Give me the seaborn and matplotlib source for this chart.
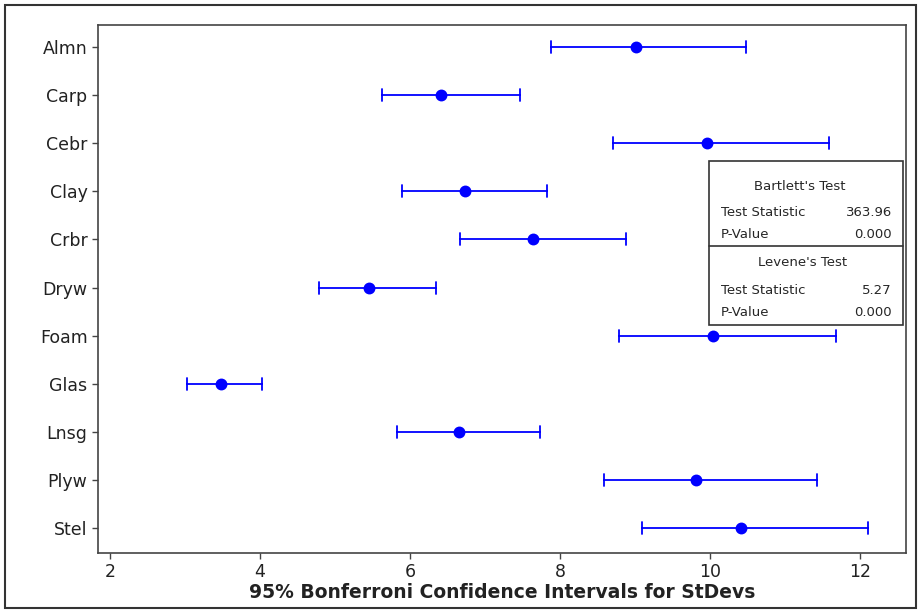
import matplotlib
matplotlib.use("Agg")
import matplotlib.pyplot as plt
import seaborn as sns
import pandas as pd
from matplotlib.patches import Rectangle

categories = ["Almn", "Carp", "Cebr", "Clay", "Crbr", "Dryw", "Foam", "Glas", "Lnsg", "Plyw", "Stel"]
lower = [7.88, 5.63, 8.71, 5.89, 6.67, 4.79, 8.79, 3.03, 5.83, 8.59, 9.09]
stdev = [9.01, 6.41, 9.96, 6.73, 7.64, 5.45, 10.04, 3.48, 6.65, 9.81, 10.41]
upper = [10.48, 7.47, 11.59, 7.83, 8.88, 6.35, 11.68, 4.03, 7.73, 11.43, 12.11]
xticks = [2, 4, 6, 8, 10, 12]

rows = []
for c, lo, m, hi in zip(categories, lower, stdev, upper):
    for v in (lo, m, hi):
        rows.append({"cat": c, "val": v})
df = pd.DataFrame(rows)

sns.set_style("white")
plt.rcParams['font.family'] = ['DejaVu Sans']

fig = plt.figure(figsize=(9.21, 6.14), dpi=100)
ax = fig.add_axes([98/921, 1 - 553/614, (906-98)/921, (553-25)/614])

sns.pointplot(data=df, x="val", y="cat", order=categories, estimator="median",
              errorbar=("pi", 100), linestyle="none", color="#0000ff",
              capsize=0.25, err_kws={"linewidth": 1.3}, markersize=6.5, ax=ax)

ax.set_xlim(1.84, 12.61)
ax.set_ylim(10.52, -0.46)
ax.set_xticks(xticks)
ax.set_xticklabels([str(t) for t in xticks], fontsize=12.5, color="#222222")
ax.set_yticks(range(len(categories)))
ax.set_yticklabels(categories, fontsize=12.5, color="#222222")
ax.set_ylabel("")
ax.set_xlabel("95% Bonferroni Confidence Intervals for StDevs", fontsize=13.5,
              fontweight="bold", color="#222222", labelpad=1)
ax.tick_params(axis="both", direction="out", length=4, width=1, color="#444444",
               bottom=True, left=True)
for s in ax.spines.values():
    s.set_color("#444444")
    s.set_linewidth(1.2)

# test results box
bx0, bx1 = 709/921, 903/921
by_top, by_mid, by_bot = 1 - 161/614, 1 - 246/614, 1 - 325/614
fig.patches.append(Rectangle((bx0, by_bot), bx1 - bx0, by_top - by_bot, transform=fig.transFigure,
                             facecolor="white", edgecolor="#333333", linewidth=1.2, zorder=5))
fig.lines.append(plt.Line2D([bx0, bx1], [by_mid, by_mid], transform=fig.transFigure,
                            color="#333333", linewidth=1.2, zorder=6))
fs = 9.5
def fy(p):
    return 1 - p/614
fig.text(800/921, fy(186), "Bartlett's Test", ha="center", va="center", fontsize=fs, zorder=7)
fig.text(721/921, fy(213), "Test Statistic", ha="left", va="center", fontsize=fs, zorder=7)
fig.text(892/921, fy(213), "363.96", ha="right", va="center", fontsize=fs, zorder=7)
fig.text(721/921, fy(235), "P-Value", ha="left", va="center", fontsize=fs, zorder=7)
fig.text(892/921, fy(235), "0.000", ha="right", va="center", fontsize=fs, zorder=7)
fig.text(803/921, fy(263), "Levene's Test", ha="center", va="center", fontsize=fs, zorder=7)
fig.text(721/921, fy(291), "Test Statistic", ha="left", va="center", fontsize=fs, zorder=7)
fig.text(892/921, fy(291), "5.27", ha="right", va="center", fontsize=fs, zorder=7)
fig.text(721/921, fy(312), "P-Value", ha="left", va="center", fontsize=fs, zorder=7)
fig.text(892/921, fy(312), "0.000", ha="right", va="center", fontsize=fs, zorder=7)

# outer border
fig.patches.append(Rectangle((5/921, 1 - 608/614), 911/921, 603/614, transform=fig.transFigure,
                             facecolor="none", edgecolor="#333333", linewidth=1.5, zorder=1))

fig.savefig("out.png", dpi=100)
